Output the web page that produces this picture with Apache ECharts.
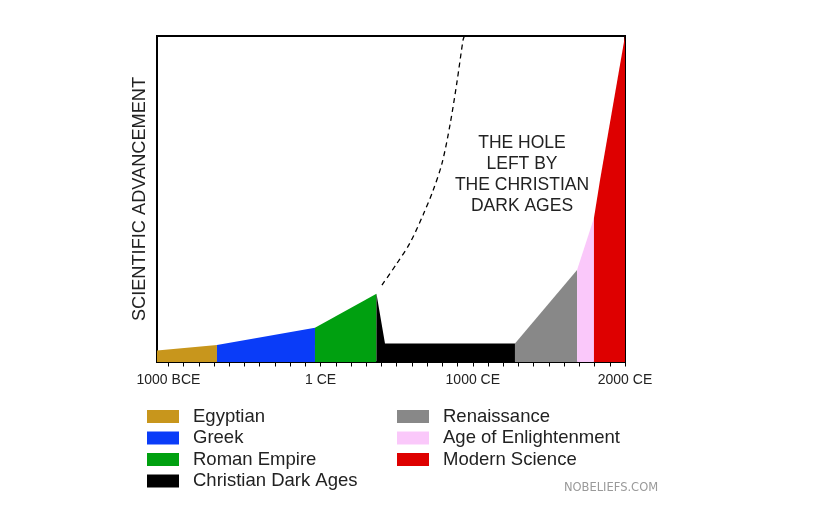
<!DOCTYPE html>
<html>
<head>
<meta charset="utf-8">
<script src="https://cdn.jsdelivr.net/npm/echarts@6/dist/echarts.min.js"></script>
<style>
html,body{margin:0;padding:0;background:#fff;}
#chart{width:840px;height:525px;}
</style>
</head>
<body>
<div id="chart"></div>
<script>
// Years: negative = BCE. Values: scientific advancement 0..100
var eraNames = ['Egyptian','Greek','Roman Empire','Christian Dark Ages','Renaissance','Age of Enlightenment','Modern Science'];
var eraColors = ['#c8961c','#0a3cf8','#00a010','#000000','#888888','#fac8fa','#de0000'];

var egyptian = [[-1075, 3.5], [-681, 5.2]];
var greek = [[-681, 5.2], [-37, 10.5]];
var roman = [[-37, 10.5], [367, 20.9]];
var darkAges = [[367, 20.9], [423, 5.7], [1277, 5.7]];
var renaissance = [[1277, 5.7], [1685, 28.2]];
var enlightenment = [[1685, 28.2], [1796, 44.2]];
var modern = [[1796, 44.2], [1836, 55.8], [2000, 100]];

// dashed "what could have been" curve
var potential = [[403, 23.6], [495, 29.8], [587, 36.5], [673, 45.1], [738, 52.5], [798, 61.0], [850, 72.7], [896, 85.9], [936, 98.8], [945, 100]];

var tickLabelYears = [-1000, 0, 1000, 2000];
var tickLabels = ['1000 BCE', '1 CE', '1000 CE', '2000 CE'];
var minorTickYears = [-1000,-900,-800,-700,-600,-500,-400,-300,-200,-100,0,100,200,300,400,500,600,700,800,900,1000,1100,1200,1300,1400,1500,1600,1700,1800,1900,2000];

var annotation = ['THE HOLE', 'LEFT BY', 'THE CHRISTIAN', 'DARK AGES'];
var yTitle = 'SCIENTIFIC ADVANCEMENT';
var watermark = 'NOBELIEFS.COM';

var eraData = [egyptian, greek, roman, darkAges, renaissance, enlightenment, modern];
var FONT = '"Liberation Sans", Arial, Helvetica, sans-serif';

var series = eraData.map(function (d, i) {
  return {
    name: eraNames[i],
    type: 'line',
    data: d,
    showSymbol: false,
    symbol: 'none',
    lineStyle: { width: 0, color: eraColors[i] },
    itemStyle: { color: eraColors[i] },
    areaStyle: { color: eraColors[i], opacity: 1 },
    silent: true,
    z: 2
  };
});
series.push({
  name: 'potential',
  type: 'line',
  data: potential,
  smooth: 0.3,
  showSymbol: false,
  symbol: 'none',
  lineStyle: { color: '#000', width: 1.3, type: [5, 4] },
  silent: true,
  z: 3
});

var chart = echarts.init(document.getElementById('chart'), null, { renderer: 'canvas' });
chart.setOption({
  animation: false,
  backgroundColor: '#fff',
  grid: {
    left: 157, right: 215, top: 36, bottom: 163,
    show: true, borderColor: '#000', borderWidth: 2, backgroundColor: 'transparent'
  },
  xAxis: {
    type: 'value',
    min: -1075, max: 2000,
    splitLine: { show: false },
    axisLine: { show: true, onZero: false, lineStyle: { color: '#000', width: 1.5 } },
    axisTick: { show: true, customValues: minorTickYears, length: 4.5, lineStyle: { color: '#000', width: 1 } },
    axisLabel: {
      customValues: tickLabelYears,
      margin: 11,
      fontSize: 14,
      fontFamily: FONT,
      color: '#222',
      formatter: function (v) {
        var idx = tickLabelYears.indexOf(v);
        return idx >= 0 ? tickLabels[idx] : '';
      }
    }
  },
  yAxis: {
    type: 'value',
    min: 0, max: 100,
    name: yTitle,
    nameLocation: 'middle',
    nameRotate: 90,
    nameGap: 8,
    nameTextStyle: { fontSize: 18.2, fontFamily: FONT, color: '#222' },
    splitLine: { show: false },
    axisLine: { show: true, onZero: false, lineStyle: { color: '#000', width: 1.5 } },
    axisTick: { show: false },
    axisLabel: { show: false }
  },
  legend: [
    {
      data: eraNames.slice(0, 4),
      orient: 'vertical',
      left: 147, top: 407,
      padding: 0,
      itemWidth: 32, itemHeight: 13, itemGap: 2.5,
      icon: 'rect',
      selectedMode: false,
      textStyle: { fontSize: 18.5, fontFamily: FONT, color: '#222', padding: [0, 0, 0, 9] }
    },
    {
      data: eraNames.slice(4),
      orient: 'vertical',
      left: 397, top: 407,
      padding: 0,
      itemWidth: 32, itemHeight: 13, itemGap: 2.5,
      icon: 'rect',
      selectedMode: false,
      textStyle: { fontSize: 18.5, fontFamily: FONT, color: '#222', padding: [0, 0, 0, 9] }
    }
  ],
  graphic: [
    {
      type: 'text',
      x: 522, y: 133,
      style: {
        text: annotation.join('\n'),
        align: 'center',
        verticalAlign: 'top',
        fontSize: 17.5,
        lineHeight: 21,
        fontFamily: FONT,
        fill: '#222'
      },
      z: 10
    },
    {
      type: 'text',
      x: 611, y: 488,
      style: {
        text: watermark,
        align: 'center',
        verticalAlign: 'middle',
        fontSize: 11.5,
        fontFamily: '"DejaVu Sans", sans-serif',
        fill: '#9a9a9a'
      },
      z: 10
    }
  ],
  series: series
});
</script>
</body>
</html>
